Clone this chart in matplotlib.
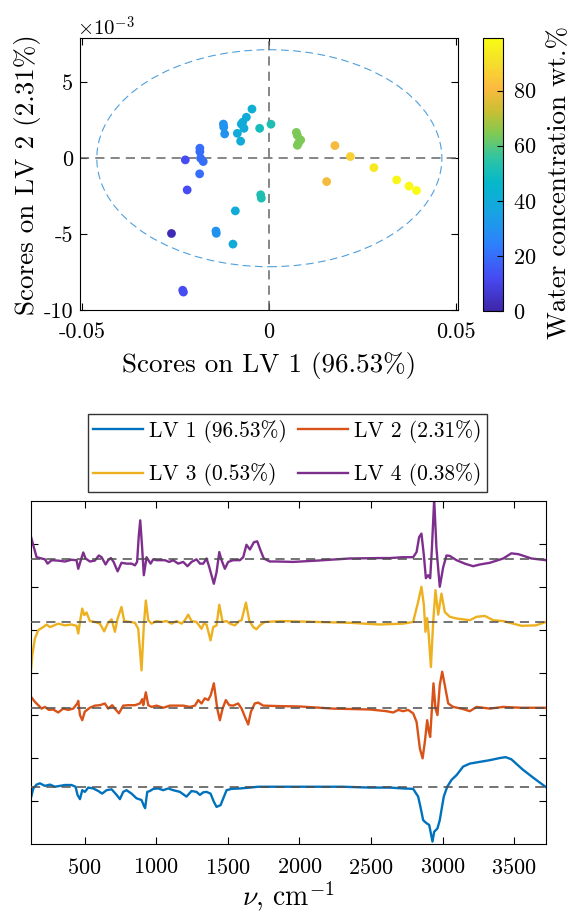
import matplotlib
matplotlib.use('Agg')
import numpy as np
import matplotlib.pyplot as plt
from matplotlib.colors import LinearSegmentedColormap
from matplotlib.patches import Ellipse

plt.rcParams['font.family'] = 'cmr10'
plt.rcParams['mathtext.fontset'] = 'cm'
plt.rcParams['axes.unicode_minus'] = False
plt.rcParams['axes.formatter.use_mathtext'] = True

# ---- scores plot data (LV1 vs LV2, coloured by water content) ----
lv1_scores = [-0.0261, -0.0229, -0.0231, -0.0224, -0.0219,
              -0.0185, -0.0185, -0.0183, -0.0176, -0.01856,
              -0.0122, -0.0121, -0.01186, -0.0142, -0.0141,
              -0.00455, -0.00605, -0.00704, -0.0074, -0.00669, -0.00846, -0.00758,
              -0.0090, -0.00964,
              -0.00249, 0.00054, -0.00222, -0.00204,
              0.00734, 0.0076, 0.00849, 0.0076, 0.0079,
              0.01545, 0.01767, 0.0218, 0.0281, 0.0342, 0.0375, 0.0395]
lv2_scores = [-0.00496, -0.00882, -0.00870, -0.00011, -0.00209,
              0.00066, 0.00043, 0.0, -0.00022, -0.00103,
              0.00225, 0.00205, 0.00160, -0.00480, -0.00495,
              0.00324, 0.00270, 0.00237, 0.00225, 0.00197, 0.00164, 0.00112,
              -0.00347, -0.00566,
              0.00197, 0.00224, -0.00241, -0.00263,
              0.00170, 0.00150, 0.00120, 0.00085, 0.00100,
              -0.00154, 0.00083, 0.00011, -0.00062, -0.00143, -0.00184, -0.00213]
water_wt = [2, 12, 12, 12, 12,
            20, 20, 20, 20, 20,
            30, 30, 30, 30, 30,
            42, 40, 40, 40, 40, 40, 40,
            40, 40,
            50, 52, 52, 52,
            64, 64, 64, 64, 64,
            80, 80, 87, 93, 97, 98, 99]

# confidence ellipse (semi-axes)
ell_center = (0.0001, 0.0)
ell_a = 0.0462
ell_b = 0.00715

# ---- loadings data (wavenumber, loading) ----
nu_lv1 = [124, 141, 164, 187, 222, 257, 292, 327, 362, 408, 436, 450, 467, 483, 501, 525,
          560, 595, 622, 653, 688, 723, 746, 769, 792, 827, 862, 897, 914, 922, 937, 955,
          979, 1014, 1048, 1083, 1118, 1165, 1211, 1246, 1281, 1305, 1328, 1351, 1379,
          1402, 1421, 1449, 1468, 1491, 1526, 1584, 1654, 1712, 1900, 2300, 2492, 2631,
          2724, 2794, 2829, 2845, 2864, 2887, 2906, 2918, 2929, 2941, 2953, 2964, 2980,
          2992, 3008, 3032, 3062, 3097, 3143, 3190, 3260, 3330, 3400, 3440, 3480, 3556,
          3633, 3722]
ld_lv1 = [-0.27, -0.04, 0.05, 0.08, 0.02, 0.05, 0.0, 0.02, 0.04, 0.04, 0.0, -0.19, -0.29,
          -0.08, -0.12, -0.02, -0.04, -0.10, -0.16, -0.08, -0.06, -0.19, -0.29, -0.12,
          -0.08, -0.16, -0.27, -0.31, -0.45, -0.50, -0.12, -0.10, -0.05, -0.04, -0.08,
          -0.04, -0.08, -0.12, -0.23, -0.10, -0.12, -0.19, -0.13, -0.12, -0.16, -0.35,
          -0.47, -0.43, -0.27, -0.08, -0.05, -0.04, -0.02, 0.0, 0.0, 0.0, -0.02, -0.02,
          -0.04, -0.05, -0.23, -0.47, -0.78, -0.85, -0.89, -1.09, -1.28, -1.05, -1.01,
          -0.97, -0.78, -0.54, -0.23, 0.0, 0.16, 0.27, 0.47, 0.54, 0.58, 0.62, 0.67,
          0.69, 0.64, 0.41, 0.21, -0.01]

nu_lv2 = [124, 152, 176, 199, 222, 250, 280, 315, 350, 385, 420, 448, 455, 467, 483, 501,
          536, 571, 606, 641, 664, 692, 711, 739, 769, 804, 851, 886, 902, 909, 927, 944,
          967, 1002, 1048, 1095, 1142, 1188, 1235, 1270, 1293, 1316, 1339, 1363, 1381,
          1402, 1426, 1444, 1463, 1486, 1509, 1537, 1572, 1596, 1619, 1642, 1661, 1688,
          1712, 1747, 1840, 2003, 2236, 2492, 2608, 2655, 2690, 2724, 2759, 2794, 2818,
          2841, 2860, 2876, 2892, 2904, 2913, 2925, 2936, 2950, 2964, 2980, 2997, 3015,
          3039, 3073, 3132, 3190, 3237, 3330, 3423, 3550, 3722]
ld_lv2 = [0.26, 0.14, 0.06, -0.02, 0.02, -0.05, -0.04, -0.11, -0.02, -0.05, -0.02, 0.10,
          0.16, -0.17, -0.29, -0.09, 0.0, 0.05, 0.06, 0.10, -0.02, 0.06, -0.02, -0.13,
          0.05, 0.06, 0.06, 0.10, 0.20, 0.06, 0.36, 0.06, 0.02, 0.05, 0.0, 0.05, 0.05,
          0.05, 0.02, 0.05, 0.18, 0.10, 0.22, 0.18, 0.30, 0.57, -0.02, -0.29, -0.02,
          0.18, 0.06, 0.05, 0.10, -0.02, -0.21, -0.39, -0.09, 0.10, 0.12, 0.05, 0.04,
          0.03, -0.02, -0.04, -0.08, -0.11, -0.05, -0.08, -0.05, -0.13, -0.33, -0.95,
          -1.18, -0.79, -0.29, -0.56, -0.68, -0.02, 0.57, -0.02, -0.17, 0.53, 0.84, 0.53,
          0.10, 0.02, -0.02, -0.08, 0.02, -0.02, 0.02, 0.0, 0.0]

nu_lv3 = [124, 134, 152, 176, 210, 234, 257, 280, 315, 362, 408, 443, 455, 467, 483, 497,
          513, 536, 571, 606, 636, 660, 688, 711, 730, 757, 776, 816, 851, 874, 897, 913,
          927, 944, 967, 1002, 1037, 1072, 1107, 1142, 1177, 1200, 1223, 1246, 1281, 1316,
          1332, 1351, 1379, 1398, 1421, 1440, 1463, 1491, 1514, 1549, 1579, 1596, 1626,
          1649, 1677, 1700, 1723, 1758, 1886, 2119, 2352, 2561, 2724, 2794, 2829, 2852,
          2869, 2880, 2892, 2901, 2918, 2934, 2950, 2969, 2992, 3015, 3050, 3097, 3143,
          3190, 3237, 3295, 3353, 3423, 3550, 3650, 3722]
ld_lv3 = [-1.17, -0.78, -0.39, -0.19, -0.12, -0.06, -0.12, -0.09, -0.04, -0.08, -0.06,
          -0.09, -0.27, 0.0, 0.31, 0.16, 0.22, 0.02, 0.0, -0.04, -0.22, -0.04, 0.06, -0.23,
          0.08, 0.35, 0.02, 0.0, -0.02, -0.16, -1.13, -0.08, 0.50, 0.04, -0.04, 0.02, 0.0,
          0.02, -0.04, 0.02, -0.04, 0.04, 0.17, 0.02, 0.0, -0.16, -0.04, -0.06, -0.43,
          -0.12, -0.08, 0.40, 0.0, 0.02, -0.04, -0.08, 0.02, 0.04, 0.45, 0.04, -0.12,
          -0.17, -0.08, 0.0, 0.02, 0.0, -0.02, -0.06, -0.04, 0.0, 0.47, 0.82, 0.39, -0.23,
          0.09, -0.23, -1.05, 0.0, 0.74, 0.17, 0.66, 0.23, 0.12, 0.08, 0.06, 0.04, 0.12,
          0.14, 0.04, 0.02, -0.09, -0.08, 0.0]

nu_lv4 = [124, 141, 164, 199, 222, 241, 269, 315, 362, 408, 443, 455, 473, 490, 506, 536,
          571, 599, 618, 646, 664, 683, 702, 730, 757, 792, 827, 851, 866, 878, 888, 900,
          913, 932, 945, 960, 979, 1002, 1060, 1090, 1118, 1153, 1188, 1218, 1246, 1281,
          1305, 1328, 1351, 1370, 1402, 1421, 1440, 1456, 1479, 1502, 1537, 1584, 1607,
          1630, 1654, 1682, 1705, 1728, 1751, 1793, 1840, 1956, 2119, 2352, 2561, 2631,
          2724, 2794, 2818, 2836, 2852, 2869, 2883, 2899, 2913, 2925, 2941, 2957, 2980,
          3004, 3027, 3050, 3097, 3155, 3213, 3260, 3330, 3423, 3480, 3530, 3620, 3722]
ld_lv4 = [0.54, 0.33, 0.05, 0.02, 0.0, -0.10, -0.02, -0.03, -0.05, -0.01, -0.02, -0.22,
          -0.02, 0.16, 0.02, -0.05, -0.03, 0.09, 0.05, -0.12, -0.02, 0.03, -0.06, -0.28,
          -0.08, -0.10, -0.10, -0.14, -0.06, 0.56, 0.91, 0.33, -0.37, 0.05, -0.02, -0.10,
          0.0, -0.02, -0.02, -0.06, -0.02, -0.10, -0.06, -0.16, -0.06, 0.0, -0.10, -0.10,
          0.02, -0.18, -0.57, -0.30, 0.17, -0.02, -0.22, -0.06, -0.02, -0.02, 0.05, 0.34,
          0.23, 0.40, 0.42, 0.21, 0.02, -0.05, -0.05, -0.06, -0.03, 0.02, 0.03, 0.03,
          0.05, 0.05, 0.17, 0.52, 0.60, 0.09, -0.44, -0.37, -0.44, 0.25, 1.40, 0.25,
          -0.64, -0.18, 0.09, 0.08, -0.02, -0.10, -0.16, -0.12, -0.08, 0.02, 0.14, 0.12,
          0.02, -0.02]

lv_labels = ['LV 1 (96.53%)', 'LV 2 (2.31%)', 'LV 3 (0.53%)', 'LV 4 (0.38%)']
lv_colors = ['#0072BD', '#D95319', '#EDB120', '#7E2F8E']
lv_offsets = [1.336, 3.178, 5.18, 6.64]

# parula-like colormap
parula = LinearSegmentedColormap.from_list('parula', [
    (0.00, (0.242, 0.150, 0.660)),
    (0.12, (0.278, 0.290, 0.950)),
    (0.24, (0.180, 0.500, 0.990)),
    (0.36, (0.090, 0.640, 0.890)),
    (0.47, (0.020, 0.720, 0.790)),
    (0.56, (0.180, 0.770, 0.640)),
    (0.65, (0.500, 0.790, 0.330)),
    (0.73, (0.780, 0.750, 0.200)),
    (0.82, (0.990, 0.730, 0.250)),
    (0.91, (0.960, 0.870, 0.170)),
    (1.00, (0.977, 0.984, 0.080)),
])

fig = plt.figure(figsize=(5.73, 9.19), dpi=100)

# ---------------- top: scores ----------------
ax1 = fig.add_axes([0.1396, 0.6627, 0.6602, 0.2956])
cax = fig.add_axes([0.8435, 0.6616, 0.0349, 0.2967])

ax1.add_patch(Ellipse(ell_center, 2 * ell_a, 2 * ell_b, fill=False,
                      ls=(0, (7, 4)), ec='#4f9fdc', lw=0.8, zorder=1))
ax1.axhline(0, ls=(0, (6, 4)), color='0.4', lw=1.1, zorder=2)
ax1.axvline(0, ls=(0, (6, 4)), color='0.4', lw=1.1, zorder=2)
sc = ax1.scatter(lv1_scores, lv2_scores, c=water_wt, cmap=parula, vmin=0, vmax=99,
                 s=40, edgecolors='none', zorder=3)

ax1.set_xlim(-0.0506, 0.0507)
ax1.set_ylim(-0.010, 0.0079)
ax1.set_xticks([-0.05, 0, 0.05])
ax1.set_xticklabels(['-0.05', '0', '0.05'])
ax1.set_yticks([-0.010, -0.005, 0, 0.005])
ax1.set_yticklabels(['-10', '-5', '0', '5'])
ax1.tick_params(direction='in', top=True, right=True, labelsize=16, length=5, width=0.8)
ax1.tick_params(axis='x', pad=9)
ax1.tick_params(axis='y', pad=5)
ax1.set_xlabel('Scores on LV 1 (96.53%)', fontsize=19.5, labelpad=7)
ax1.set_ylabel('Scores on LV 2 (2.31%)', fontsize=19.5, labelpad=2)
fig.text(77 / 573, 1 - 36 / 919, r'$\times 10^{-3}$', fontsize=15)

cb = fig.colorbar(sc, cax=cax)
cb.set_ticks([0, 20, 40, 60, 80])
cax.tick_params(direction='in', labelsize=16, length=4, width=0.8, pad=7)
cb.outline.set_linewidth(0.8)
cb.set_label('Water concentration wt.%', fontsize=19.5)
cax.yaxis.set_label_coords(3.2, 0.47)

# ---------------- bottom: loadings ----------------
ax2 = fig.add_axes([0.0541, 0.0816, 0.8988, 0.3732])
nus = [nu_lv1, nu_lv2, nu_lv3, nu_lv4]
lds = [ld_lv1, ld_lv2, ld_lv3, ld_lv4]
lines = []
for nu, ld, col, off, lab in zip(nus, lds, lv_colors, lv_offsets, lv_labels):
    ln, = ax2.plot(nu, np.array(ld) + off, color=col, lw=1.7, label=lab)
    lines.append(ln)
for off in lv_offsets:
    ax2.axhline(off, ls=(0, (6, 4)), color='0.3', lw=1.1, zorder=3)

ax2.set_xlim(125, 3722)
ax2.set_ylim(0, 8)
ax2.set_xticks(np.arange(500, 3501, 500))
ax2.set_yticks(np.arange(1, 8))
ax2.set_yticklabels([])
ax2.tick_params(direction='in', top=True, right=True, labelsize=16, length=5, width=0.8)
ax2.tick_params(axis='x', pad=10)
ax2.set_xlabel(r'$\nu$, cm$^{-1}$', fontsize=20, labelpad=1)

fig.legend([lines[0], lines[2], lines[1], lines[3]],
           [lv_labels[0], lv_labels[2], lv_labels[1], lv_labels[3]],
           ncol=2, loc='center', bbox_to_anchor=(0.5017, 0.5071), fontsize=15.5,
           handlelength=2.3, handletextpad=0.3, columnspacing=0.5, labelspacing=0.95,
           fancybox=False, edgecolor='0.2', framealpha=1, borderpad=0.25)

fig.savefig('out.png', dpi=100)
